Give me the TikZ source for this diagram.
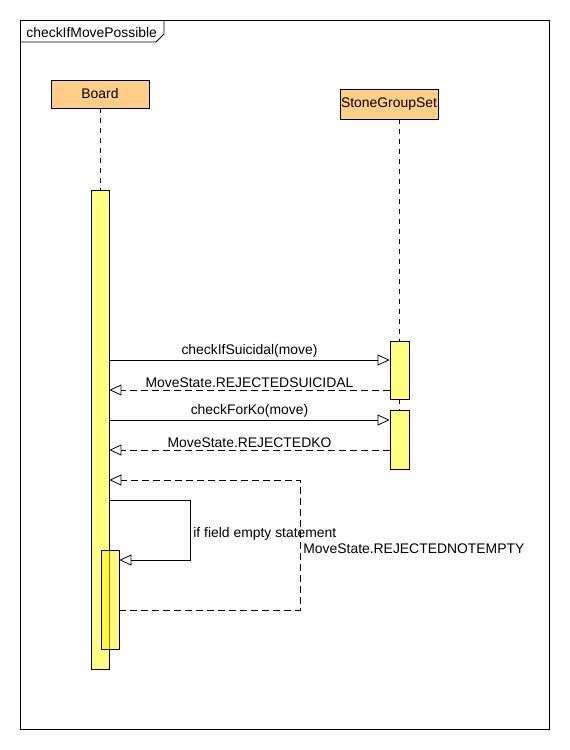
\documentclass[tikz,border=0pt]{standalone}
\usepackage{fontspec}
\setmainfont{Liberation Sans}
\usetikzlibrary{arrows.meta}

\definecolor{boxorange}{RGB}{255,207,138}
\definecolor{baryellow}{RGB}{255,255,128}

\begin{document}
\begin{tikzpicture}[x=1pt, y=-1pt, line width=0.8pt,
  font=\fontsize{13.9}{16}\selectfont,
  lifebox/.style={rectangle, draw, fill=boxorange, minimum width=98pt, inner sep=0pt},
  actbar/.style={rectangle, draw, fill=baryellow, minimum width=18pt, inner sep=0pt},
  lifeline/.style={dash pattern=on 5pt off 5pt},
  call/.style={-{Triangle[open, length=12pt, width=11pt, fill=white]}},
  reply/.style={call, dash pattern=on 7pt off 4pt}]
  \useasboundingbox (0,0) rectangle (570,750);

  % cadre
  \draw (20,20) rectangle (549,729);
  \draw (20,42) -- (156,42) -- (164,34) -- (164,20);
  \node[anchor=west, inner sep=0pt] (title) at (26,32.5) {checkIfMovePossible};

  \node[lifebox, minimum height=28pt] (board) at (100,94) {Board};
  \node[lifebox, minimum height=30pt] (stones) at (389,104) {StoneGroupSet};

  \node[actbar, minimum height=479pt] (barBoard) at (100,429.5) {};
  \node[actbar, minimum width=19pt, minimum height=58pt] (barSuicide) at (399.5,370) {};
  \node[actbar, minimum width=19pt, minimum height=59pt] (barKo) at (399.5,439.5) {};

  \draw[lifeline] (board.south) -- (barBoard.north);
  \draw[lifeline] (stones.south -| barSuicide) -- (barSuicide.north);
  \draw[lifeline] (barSuicide.south) -- (barKo.north);

  \coordinate (m1) at (0,360);
  \coordinate (m2) at (0,390);
  \coordinate (m3) at (0,420);
  \coordinate (m4) at (0,450);
  \coordinate (m5) at (0,480);
  \coordinate (self) at (190,500);
  \coordinate (ret) at (300,610);

  \draw[call] (barBoard.east |- m1) -- node[above=-1pt] {checkIfSuicidal(move)} (barSuicide.west |- m1);
  \draw[reply] (barSuicide.west |- m2) -- node[above=-1pt] {MoveState.REJECTEDSUICIDAL} (barBoard.east |- m2);
  \draw[call] (barBoard.east |- m3) -- node[above=-1pt] {checkForKo(move)} (barKo.west |- m3);
  \draw[reply] (barKo.west |- m4) -- node[above=-1pt] {MoveState.REJECTEDKO} (barBoard.east |- m4);

  % appel sur soi-meme
  \node[actbar, fill=yellow, fill opacity=0.5, draw opacity=1, minimum height=99pt] (barNested) at (110,599.5) {};
  \draw[call] (barBoard.east |- self) -- (self) -- node[right, inner sep=3pt, pos=0.56] {if field empty statement} (self |- 0,560) -- (barNested.east |- 0,560);
  \draw[reply] (barNested.east |- ret) -- (ret) -- node[right, inner sep=3pt, pos=0.47] {MoveState.REJECTEDNOTEMPTY} (ret |- m5) -- (barBoard.east |- m5);
\end{tikzpicture}
\end{document}
